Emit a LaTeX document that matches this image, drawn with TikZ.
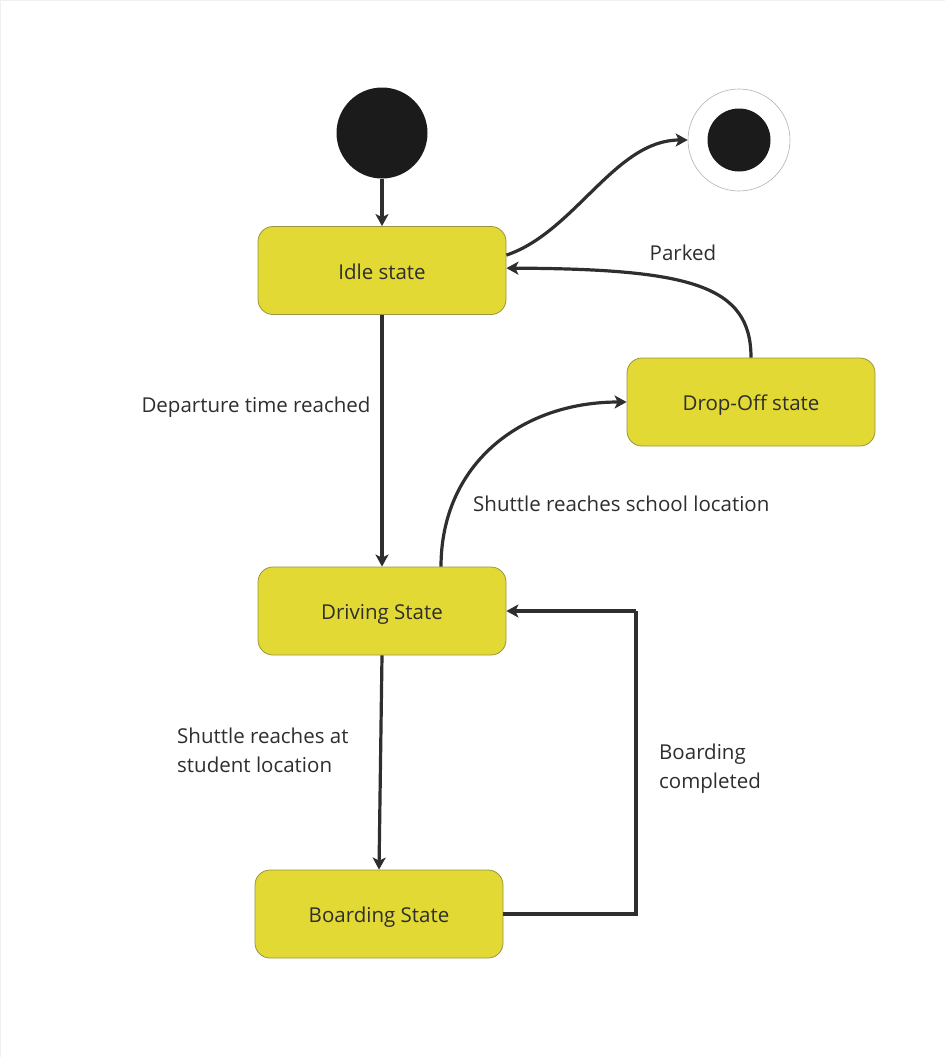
\documentclass[tikz,border=0pt]{standalone}
\usepackage{fontspec}
\setmainfont{Open Sans}
\usetikzlibrary{arrows.meta}
\definecolor{stfill}{HTML}{E2D935}
\definecolor{stdraw}{HTML}{9A9440}
\definecolor{ink}{HTML}{2E2E2E}
\definecolor{dot}{HTML}{1B1B1B}
\begin{document}
\begin{tikzpicture}[x=1pt,y=-1pt,
  statebox/.style={draw=stdraw, line width=0.8pt, fill=stfill, rounded corners=15pt,
    minimum width=248pt, minimum height=88pt, inner sep=0pt, text=ink,
    text height=19pt, text depth=1.4pt,
    font=\fontsize{20.5}{24}\selectfont},
  lbl/.style={text=ink, font=\fontsize{20.5}{29}\selectfont, inner sep=0pt},
  conn/.style={draw=ink, line width=3.2pt, -{Stealth[length=12pt,width=13pt,inset=3pt]}},
  plain/.style={draw=ink, line width=3.2pt}]
\useasboundingbox (0,0) rectangle (945,1057);
\draw[gray!12, line width=1pt] (0.5,1057) -- (0.5,0.5) -- (945,0.5);

\node[circle, fill=dot, minimum size=91pt, inner sep=0pt] (init) at (382,133) {};
\node[circle, draw=gray!60, line width=0.6pt, fill=white, minimum size=102pt, inner sep=0pt] (final) at (739,140) {};
\node[circle, fill=dot, minimum size=63pt, inner sep=0pt] (finalin) at (739,140) {};

\node[statebox] (idle) at (382,270.5) {Idle state};
\node[statebox] (drop) at (751,402) {Drop-Off state};
\node[statebox] (drive) at (382,611) {Driving State};
\node[statebox] (board) at (379,914) {Boarding State};

\draw[conn] ([yshift=-29pt]idle.north east) .. controls (575,232) and (615,140) .. (final.west);
\draw[conn] (init.south) -- (idle.north);
\draw[conn] (drop.north) .. controls (751,285) and (690,269) .. ([yshift=-42pt]idle.north east);
\node[lbl] (parked) at (683,252.5) {Parked};

\draw[conn] (idle.south) -- (drive.north);
\node[lbl] (dep) at (256,407) {Departure time reached};

\draw[conn] ([xshift=59pt]drive.north) .. controls (441,465) and (520,402) .. (drop.west);
\node[lbl, anchor=west] (school) at (473,503.5) {Shuttle reaches school location};

\draw[conn] (drive.south) -- (board.north);
\node[lbl, anchor=west, align=left] (stud) at (177,750) {Shuttle reaches at\\student location};

\coordinate (c1) at (636,914);
\coordinate (c2) at (636,611);
\draw[plain] (board.east) -- (c1) -- (c2);
\draw[conn] (c2) -- (drive.east);
\node[lbl, anchor=west, align=left] (bc) at (659,769) {Boarding\\completed};
\end{tikzpicture}
\end{document}
